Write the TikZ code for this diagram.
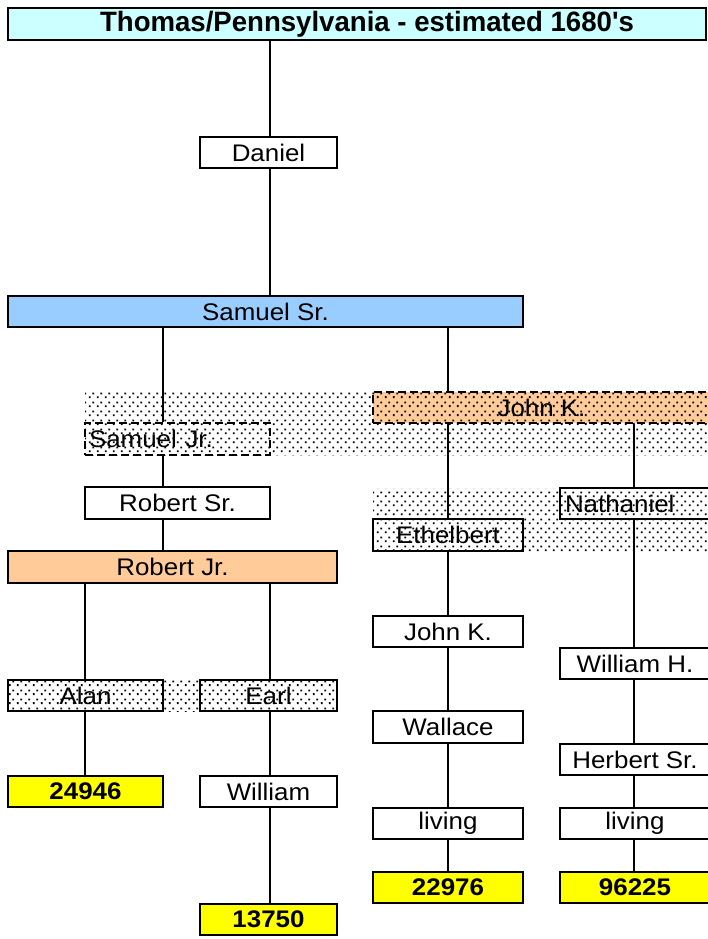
\documentclass[tikz,border=0pt]{standalone}
\usepackage{graphicx}
\usepackage{fontspec}
\setmainfont{Liberation Sans}
\usetikzlibrary{patterns.meta}
\definecolor{titlecyan}{HTML}{CCFFFF}
\definecolor{skyblue}{HTML}{99CCFF}
\definecolor{peach}{HTML}{FFCC99}
\definecolor{brightyellow}{HTML}{FFFF00}
\tikzdeclarepattern{
  name=pxdots,
  type=uncolored,
  bounding box={(0pt,0pt) and (8pt,9pt)},
  tile size={(8pt,9pt)},
  code={
    \pgfpathrectangle{\pgfpoint{1pt}{1pt}}{\pgfpoint{2pt}{2pt}}
    \pgfpathrectangle{\pgfpoint{5pt}{5pt}}{\pgfpoint{2pt}{2pt}}
    \pgfusepath{fill}
  }
}
\newcommand{\tx}[1]{\scalebox{1.08}[1]{#1}}
\newcommand{\tb}[1]{\scalebox{1.08}[1]{\bfseries #1}}
\tikzset{
  pbox/.style={draw, line width=2pt, inner sep=0pt, fill=white,
    font=\fontsize{24}{26}\selectfont},
  nbox/.style={pbox, fill=none},
  dbox/.style={pbox, fill=none, dash pattern=on 8pt off 4pt},
  ybox/.style={pbox, fill=brightyellow},
  conn/.style={line width=2pt},
  band/.style={pattern=pxdots, pattern color=black}
}
\begin{document}
\begin{tikzpicture}[x=1pt,y=-1pt]
\useasboundingbox (0,0) rectangle (708,939);
\clip (0,0) rectangle (708,939);
% dotted bands
\fill[band] (85,390) rectangle (712,455);
\fill[band] (373,488) rectangle (712,551);
\fill[band] (8,680) rectangle (337,711);
% column coordinates
\coordinate (colA) at (85,0);
\coordinate (colL) at (163,0);
\coordinate (colM) at (448,0);
\coordinate (colR) at (634,0);
\coordinate (colT) at (270,0);
% nodes
\node[pbox, fill=titlecyan, minimum width=698pt, minimum height=32pt] (title) at (357,24)
  {\fontsize{28}{30}\selectfont\hspace*{20pt}\scalebox{0.985}[1]{\bfseries Thomas/Pennsylvania - estimated 1680\textquotesingle s}};
\node[pbox, minimum width=137pt, minimum height=31pt] (daniel) at (268.5,152.5) {\tx{Daniel}};
\node[pbox, fill=skyblue, minimum width=515pt, minimum height=31pt] (samsr) at (265.5,311.5) {\tx{Samuel Sr.}};
\node[pbox, dash pattern=on 8pt off 4pt, preaction={fill=peach}, fill=none, pattern=pxdots,
  minimum width=337pt, minimum height=31pt] (johnk) at (541.5,407.5) {\tx{John K.}};
\node[dbox, minimum width=185pt, minimum height=32pt, text width=177pt, align=left] (samjr) at (177.5,439) {\tx{Samuel Jr.}};
\node[pbox, minimum width=185pt, minimum height=32pt] (robsr) at (177.5,503) {\tx{Robert Sr.}};
\node[pbox, fill=peach, minimum width=329pt, minimum height=32pt] (robjr) at (172.5,567) {\tx{Robert Jr.}};
\node[nbox, minimum width=155pt, minimum height=31pt] (alan) at (85.5,695.5) {\tx{Alan}};
\node[nbox, minimum width=137pt, minimum height=31pt] (earl) at (268.5,695.5) {\tx{Earl}};
\node[ybox, minimum width=155pt, minimum height=31pt] (n24946) at (85.5,791.5) {\tb{24946}};
\node[pbox, minimum width=137pt, minimum height=31pt] (william) at (268.5,791.5) {\tx{William}};
\node[ybox, minimum width=137pt, minimum height=31pt] (n13750) at (268.5,919.5) {\tb{13750}};
\node[nbox, minimum width=150pt, minimum height=32pt] (ethel) at (448,535) {\tx{Ethelbert}};
\node[nbox, minimum width=150pt, minimum height=31pt, text width=140pt, align=left] (nath) at (635,503.5) {\tx{Nathaniel}};
\node[pbox, minimum width=150pt, minimum height=31pt] (johnk2) at (448,631.5) {\tx{John K.}};
\node[pbox, minimum width=150pt, minimum height=31pt] (williamh) at (635,663.5) {\tx{William H.}};
\node[pbox, minimum width=150pt, minimum height=32pt] (wallace) at (448,727) {\tx{Wallace}};
\node[pbox, minimum width=150pt, minimum height=31pt] (herbert) at (635,759.5) {\tx{Herbert Sr.}};
\node[pbox, minimum width=150pt, minimum height=31pt] (living1) at (448,823.5) {\tx{living}};
\node[pbox, minimum width=150pt, minimum height=31pt] (living2) at (635,823.5) {\tx{living}};
\node[ybox, minimum width=150pt, minimum height=31pt] (n22976) at (448,887.5) {\tb{22976}};
\node[ybox, minimum width=150pt, minimum height=31pt] (n96225) at (635,887.5) {\tb{96225}};
% connectors
\draw[conn] (title.south -| colT) -- (daniel.north -| colT);
\draw[conn] (daniel.south -| colT) -- (samsr.north -| colT);
\draw[conn] (samsr.south -| colL) -- (samjr.north -| colL);
\draw[conn] (samsr.south -| colM) -- (johnk.north -| colM);
\draw[conn] (samjr.south -| colL) -- (robsr.north -| colL);
\draw[conn] (robsr.south -| colL) -- (robjr.north -| colL);
\draw[conn] (robjr.south -| colA) -- (alan.north -| colA);
\draw[conn] (robjr.south -| colT) -- (earl.north -| colT);
\draw[conn] (alan.south -| colA) -- (n24946.north -| colA);
\draw[conn] (earl.south -| colT) -- (william.north -| colT);
\draw[conn] (william.south -| colT) -- (n13750.north -| colT);
\draw[conn] (johnk.south -| colM) -- (ethel.north -| colM);
\draw[conn] (johnk.south -| colR) -- (nath.north -| colR);
\draw[conn] (ethel.south -| colM) -- (johnk2.north -| colM);
\draw[conn] (johnk2.south -| colM) -- (wallace.north -| colM);
\draw[conn] (wallace.south -| colM) -- (living1.north -| colM);
\draw[conn] (living1.south -| colM) -- (n22976.north -| colM);
\draw[conn] (nath.south -| colR) -- (williamh.north -| colR);
\draw[conn] (williamh.south -| colR) -- (herbert.north -| colR);
\draw[conn] (herbert.south -| colR) -- (living2.north -| colR);
\draw[conn] (living2.south -| colR) -- (n96225.north -| colR);
\end{tikzpicture}
\end{document}
